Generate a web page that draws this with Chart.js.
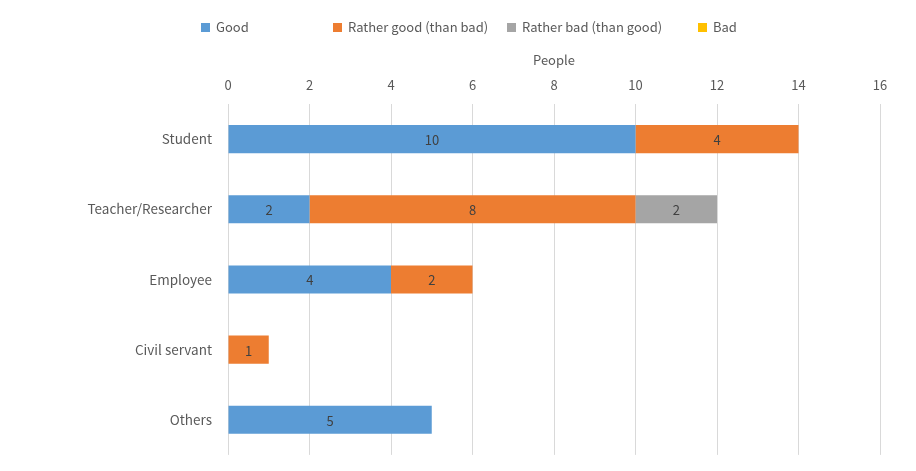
<!DOCTYPE html>
<html>
<head>
<meta charset="utf-8">
<script src="https://cdn.jsdelivr.net/npm/chart.js@4/dist/chart.umd.min.js"></script>
<style>
  body { margin: 0; background: #fff; }
  #wrap { position: relative; width: 916px; height: 471px; }
  .lg { position: absolute; top: 19px; font: 13px "Noto Sans CJK JP", "Noto Sans", sans-serif; color: #595959; white-space: nowrap; line-height: 16px; }
  .lg i { display: inline-block; width: 9px; height: 9px; margin-right: 6px; vertical-align: 0px; }
</style>
</head>
<body>
<div id="wrap">
  <canvas id="chart" width="916" height="471"></canvas>
</div>
<script>
const categories = ["Student", "Teacher/Researcher", "Employee", "Civil servant", "Others"];
const seriesNames = ["Good", "Rather good (than bad)", "Rather bad (than good)", "Bad"];
const good = [10, 2, 4, 0, 5];
const ratherGood = [4, 8, 2, 1, 0];
const ratherBad = [0, 2, 0, 0, 0];
const bad = [0, 0, 0, 0, 0];
const colors = ["#5B9BD5", "#ED7D31", "#A5A5A5", "#FFC000"];
const legendX = [201, 333, 507, 698];

const font = "'Noto Sans CJK JP', 'Noto Sans', sans-serif";

// html legend, spaced like the original
const wrap = document.getElementById("wrap");
seriesNames.forEach((n, i) => {
    const d = document.createElement("div");
    d.className = "lg";
    d.style.left = legendX[i] + "px";
    d.innerHTML = '<i style="background:' + colors[i] + '"></i>' + n;
    wrap.appendChild(d);
});

const valueLabels = {
    id: "valueLabels",
    afterDatasetsDraw(chart) {
        const c = chart.ctx;
        c.save();
        c.font = "13px " + font;
        c.fillStyle = "#404040";
        c.textAlign = "center";
        c.textBaseline = "middle";
        chart.data.datasets.forEach((ds, i) => {
            chart.getDatasetMeta(i).data.forEach((bar, j) => {
                if (!ds.data[j]) return;
                c.fillText(ds.data[j], (bar.x + bar.base) / 2, bar.y + 1);
            });
        });
        c.restore();
    }
};

new Chart(document.getElementById("chart").getContext("2d"), {
    type: "bar",
    data: {
        labels: categories,
        datasets: [good, ratherGood, ratherBad, bad].map((d, i) => ({
            label: seriesNames[i],
            data: d,
            backgroundColor: colors[i],
            barPercentage: 0.4,
            categoryPercentage: 1
        }))
    },
    options: {
        indexAxis: "y",
        responsive: false,
        animation: false,
        layout: { padding: { top: 46, right: 36, bottom: 0, left: 0 } },
        scales: {
            x: {
                position: "top",
                stacked: true,
                min: 0, max: 16,
                ticks: { stepSize: 2, color: "#595959", font: { size: 13, family: font }, padding: 11 },
                grid: { color: "#D9D9D9", drawTicks: false },
                border: { display: false },
                title: { display: true, text: "People", color: "#595959", font: { size: 13, family: font }, padding: { top: 6, bottom: 0 } },
                afterFit: s => { s.height = 58; }
            },
            y: {
                stacked: true,
                ticks: { color: "#595959", font: { size: 13.5, family: font }, padding: 8 },
                grid: { display: false },
                border: { display: false },
                afterFit: s => { s.width = 228; }
            }
        },
        plugins: { legend: { display: false }, tooltip: { enabled: false } }
    },
    plugins: [valueLabels]
});
</script>
</body>
</html>
